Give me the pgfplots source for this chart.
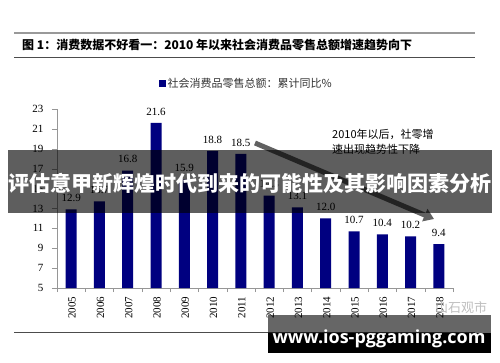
\documentclass[border=0pt]{standalone}
\usepackage{pgfplots}
\pgfplotsset{compat=1.18}
\usepackage{fontspec}
\setmainfont{Liberation Serif}
\newfontfamily\cjk{Noto Sans CJK SC}
\newfontfamily\osans{Open Sans}
\usetikzlibrary{arrows.meta}
\definecolor{barblue}{RGB}{0,0,128}
\definecolor{axgray}{RGB}{150,150,150}
\begin{document}
\begin{tikzpicture}
\path[use as bounding box, fill=white] (0,0) rectangle (500pt,362pt);
\draw[line width=2pt, color=black!40] (14pt,328.5pt) -- (475pt,328.5pt);
\draw[line width=0.8pt, color=black!70] (14pt,305pt) -- (475pt,305pt);
\node[anchor=west, inner sep=0pt, font=\cjk\bfseries\fontsize{12}{14}\selectfont] at (22pt,317pt) {图\ 1：消费数据不好看一：2010 年以来社会消费品零售总额增速趋势向下};
\draw[line width=0.8pt, color=black!70] (14pt,30pt) -- (475pt,30pt);
\begin{axis}[
  at={(57pt,74pt)}, anchor=south west, scale only axis,
  width=396pt, height=179pt,
  xmin=-0.5, xmax=13.5, ymin=5, ymax=23,
  axis x line*=bottom, axis y line*=left,
  axis line style={draw=axgray, -},
  ytick={5,7,...,23},
  xtick={0,...,13},
  xticklabels={2005,2006,2007,2008,2009,2010,2011,2012,2013,2014,2015,2016,2017,2018},
  x tick label style={rotate=90, anchor=east, font=\fontsize{11}{13}\selectfont, yshift=-1pt},
  y tick label style={font=\fontsize{11}{13}\selectfont, xshift=-5pt},
  tick align=outside, major tick length=5pt,
  tick style={draw=axgray},
  minor xtick={-0.5,0.5,...,13.5}, minor tick length=4pt,
  major x tick style={draw=none},
  /pgf/number format/assume math mode=true,
  ybar, bar width=11pt,
  nodes near coords={\pgfmathprintnumber[fixed,fixed zerofill,precision=1]{\pgfplotspointmeta}},
  nodes near coords style={font=\fontsize{11}{13}\selectfont, yshift=4pt},
  legend style={at={(axis description cs:0.478,1.14)}, anchor=center, draw=none, fill=none,
    font=\cjk\fontsize{11}{12}\selectfont, text=black!80},
  legend image code/.code={\fill[barblue] (0pt,-3pt) rectangle (7pt,4pt);},
]
\addplot[fill=barblue, draw=none] coordinates {
(0,12.9) (1,13.7) (2,16.8) (3,21.6) (4,15.9) (5,18.8) (6,18.5)
(7,14.3) (8,13.1) (9,12.0) (10,10.7) (11,10.4) (12,10.2) (13,9.4)};
\addlegendentry{社会消费品零售总额：累计同比\%}
\end{axis}
\node[anchor=north west, align=left, inner sep=0pt, font=\cjk\fontsize{11}{15}\selectfont] at (332pt,233pt) {2010年以后，社零增\\速出现趋势性下降};
\draw[line width=5pt, color=black!62, -{Triangle[width=13pt,length=10pt]}] (255pt,219pt) -- (434pt,143pt);
\fill[black, opacity=0.63] (8pt,149pt) rectangle (492pt,212pt);
\node[text=white, inner sep=0pt, font=\cjk\bfseries\fontsize{21}{24}\selectfont] at (250pt,179pt) {评估意甲新辉煌时代到来的可能性及其影响因素分析};
\node[anchor=west, inner sep=0pt, text=black!25, font=\cjk\fontsize{13}{15}\selectfont] at (435pt,54pt) {山石观市};
\fill[black, opacity=0.6] (268pt,29pt) rectangle (491pt,47pt);
\fill[black] (268pt,9pt) rectangle (491pt,29pt);
\node[anchor=base, inner sep=0pt, text=white, font=\osans\bfseries\fontsize{18}{20}\selectfont] at (379pt,19pt) {www.ios-pggaming.com};
\end{tikzpicture}
\end{document}
